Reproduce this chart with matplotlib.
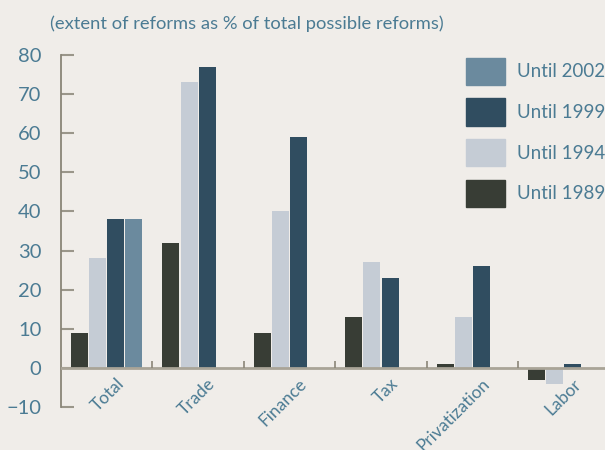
import matplotlib
matplotlib.use("Agg")
import matplotlib.pyplot as plt
import numpy as np
from matplotlib.patches import Patch

# Data
categories = ["Total", "Trade", "Finance", "Tax", "Privatization", "Labor"]
until_1989 = [9, 32, 9, 13, 1, -3]
until_1994 = [28, 73, 40, 27, 13, -4]
until_1999 = [38, 77, 59, 23, 26, 1]
until_2002 = [38, None, None, None, None, None]

series = [
    ("Until 1989", until_1989, "#383d35"),
    ("Until 1994", until_1994, "#c5ccd5"),
    ("Until 1999", until_1999, "#304d60"),
    ("Until 2002", until_2002, "#6b8a9e"),
]

BG = "#f0ede9"
TXT = "#4b7b93"
plt.rcParams["font.family"] = ["Lato", "DejaVu Sans"]

fig = plt.figure(figsize=(6.05, 4.5), dpi=100, facecolor=BG)
ax = fig.add_axes([0.1008, 0.0956, 0.8992, 0.7822], facecolor=BG)

x = np.arange(len(categories))
width = 0.186
step = 0.198
offset = 0.11
for j, (label, vals, color) in enumerate(series):
    xs = [xi + offset + j * step for xi, v in zip(x, vals) if v is not None]
    ys = [v for v in vals if v is not None]
    ax.bar(xs, ys, width=width, align="edge", color=color, label=label, zorder=2)

ax.set_xlim(0, 5.95)
ax.set_ylim(-10, 80)

# zero line and category separators
ax.axhline(0, color="#a9a497", lw=2, zorder=3)
ax.vlines(x[1:], 0, 1.8, color="#8a8578", lw=1.2, zorder=3)

for s in ["top", "right", "bottom"]:
    ax.spines[s].set_visible(False)
ax.spines["left"].set_color("#8a8578")
ax.spines["left"].set_linewidth(1.3)

ax.set_yticks(np.arange(-10, 81, 10))
ax.tick_params(axis="y", direction="in", length=9.5, width=1.5, color="#9a968a",
               labelsize=14.5, labelcolor=TXT, pad=14)
ax.set_xticks([])

for xi, name in zip(x, categories):
    ax.text(xi + 0.6, -2.0, name, rotation=45, ha="right", va="top",
            rotation_mode="anchor", fontsize=12.5, color=TXT)

fig.text(0.083, 0.948, "(extent of reforms as % of total possible reforms)",
         fontsize=13.2, color=TXT, va="center", ha="left")

handles = [Patch(color=c, label=l) for l, _, c in series[::-1]]
ax.legend(handles=handles, loc="upper left", bbox_to_anchor=(0.713, 1.04),
          frameon=False, fontsize=13.5, labelcolor=TXT,
          handlelength=2.1, handleheight=1.85, labelspacing=0.72, handletextpad=0.65)

fig.savefig("out.png", dpi=100, facecolor=BG)
